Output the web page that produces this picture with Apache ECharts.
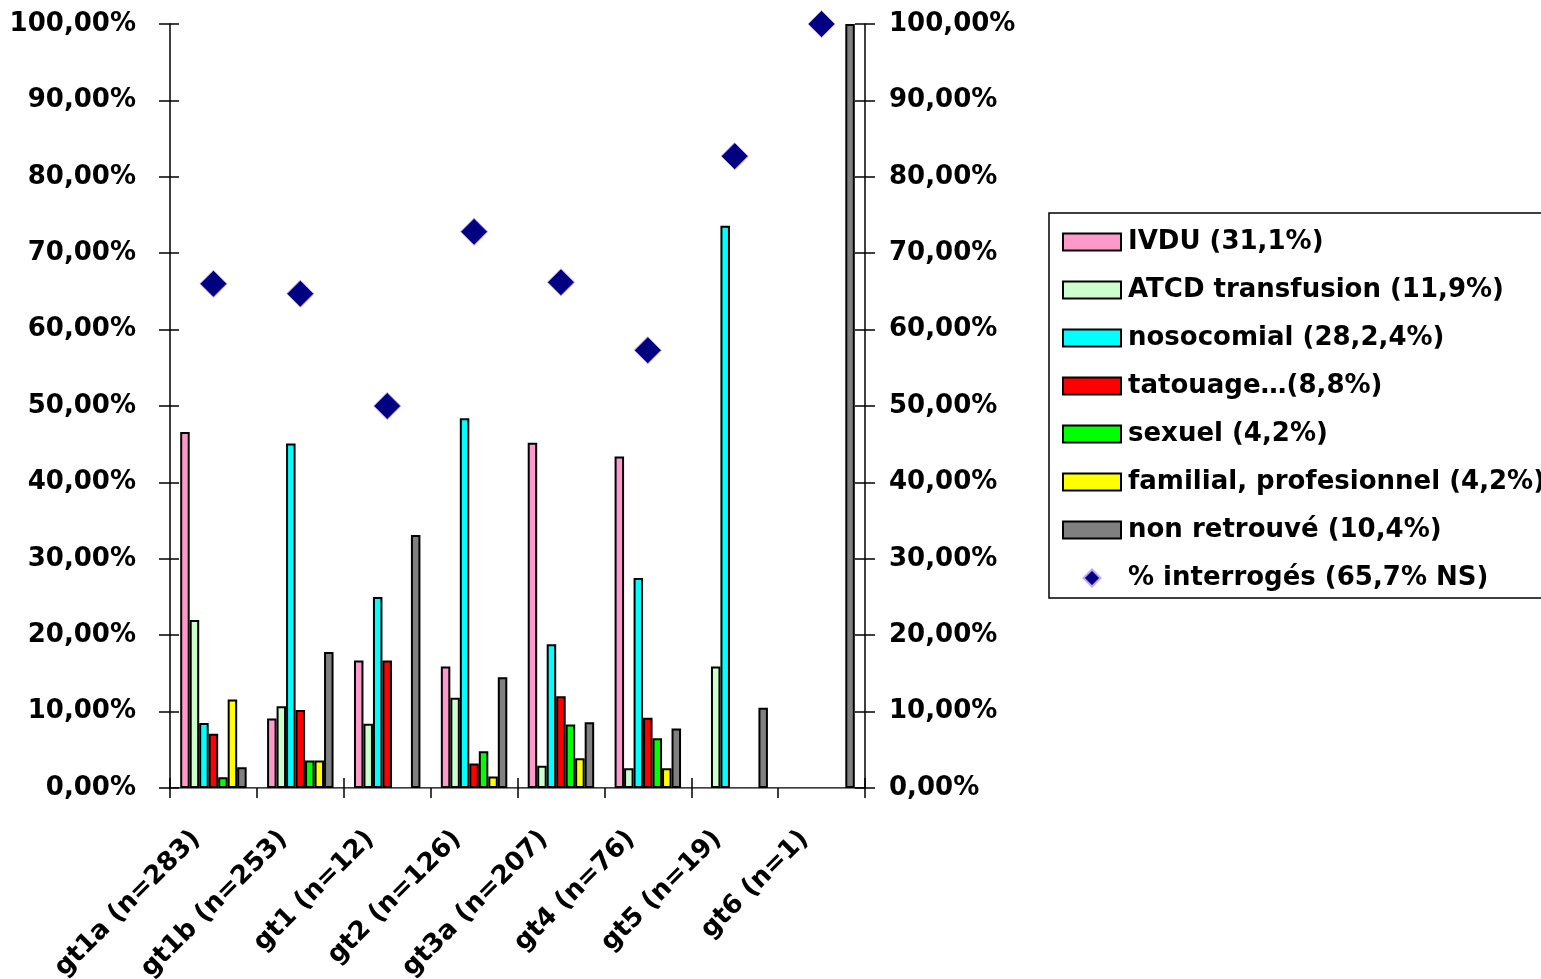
<!DOCTYPE html>
<html>
<head>
<meta charset="utf-8">
<title>Génotypes et modes de contamination</title>
<script src="https://cdn.jsdelivr.net/npm/echarts@6/dist/echarts.min.js"></script>
<style>
  html, body { margin: 0; padding: 0; background: #ffffff; }
  #chart { width: 1541px; height: 979px; }
</style>
</head>
<body>
<div id="chart"></div>
<script>
// Genotype groups (x axis)
const categories = ['gt1a (n=283)', 'gt1b (n=253)', 'gt1 (n=12)', 'gt2 (n=126)',
                    'gt3a (n=207)', 'gt4 (n=76)', 'gt5 (n=19)', 'gt6 (n=1)'];

// Share of each contamination mode per genotype, in %
const ivdu        = [46.6,  9.1, 16.7, 15.9, 45.2, 43.4, null, null];
const transfusion = [22.0, 10.7,  8.4, 11.8,  2.9,  2.6, 15.9, null];
const nosocomial  = [ 8.5, 45.1, 25.0, 48.4, 18.8, 27.5, 73.6, null];
const tatouage    = [ 7.1, 10.2, 16.7,  3.2, 12.0,  9.2, null, null];
const sexuel      = [ 1.4,  3.6, null,  4.8,  8.3,  6.5, null, null];
const familial    = [11.6,  3.6, null,  1.5,  3.9,  2.6, null, null];
const nonRetrouve = [ 2.7, 17.8, 33.1, 14.5,  8.6,  7.8, 10.5, 100];

// Share of patients questioned, in %
const interroges  = [66.0, 64.7, 50.0, 72.8, 66.2, 57.3, 82.7, 100];

// Legend labels
const names = ['IVDU (31,1%)', 'ATCD transfusion (11,9%)', 'nosocomial (28,2,4%)',
               'tatouage\u2026(8,8%)', 'sexuel (4,2%)', 'familial, profesionnel (4,2%)',
               'non retrouvé (10,4%)', '% interrogés (65,7% NS)'];

const barSets = [ivdu, transfusion, nosocomial, tatouage, sexuel, familial, nonRetrouve];
const barColors = ['#FF99CC', '#CCFFCC', '#00FFFF', '#FF0000', '#00FF00', '#FFFF00', '#808080'];

const FONT = 'DejaVu Sans';
const labelStyle = { fontFamily: FONT, fontWeight: 'bold', fontSize: 26, color: '#000' };
const pctFormat = v => v.toFixed(2).replace('.', ',') + '%';

const chart = echarts.init(document.getElementById('chart'), null, { renderer: 'canvas' });

const series = barSets.map((data, i) => ({
  name: names[i],
  type: 'bar',
  xAxisIndex: 0,
  yAxisIndex: 0,
  data: data,
  barGap: '0%',
  barCategoryGap: '23.5%',
  itemStyle: { color: barColors[i], borderColor: '#000', borderWidth: 2 },
  emphasis: { disabled: true }
}));

series.push({
  name: names[7],
  type: 'scatter',
  xAxisIndex: 0,
  yAxisIndex: 0,
  data: interroges,
  symbol: 'diamond',
  symbolSize: 27,
  z: 5,
  itemStyle: { color: '#000080', opacity: 1, borderColor: '#C4A3FF', borderWidth: 1 },
  emphasis: { disabled: true }
});

const yBase = { type: 'value', min: 0, max: 100, interval: 10, splitLine: { show: false } };

chart.setOption({
  animation: false,
  backgroundColor: '#ffffff',
  grid: { left: 170, right: 676, top: 24, bottom: 191, containLabel: false, outerBoundsMode: 'none' },
  legend: {
    orient: 'vertical',
    left: 1049,
    top: 213,
    padding: [16, 60, 7, 13],
    itemGap: 22,
    itemWidth: 58,
    itemHeight: 17,
    borderColor: '#000',
    borderWidth: 1.5,
    selectedMode: false,
    textStyle: { fontFamily: FONT, fontWeight: 'bold', fontSize: 26, color: '#000', lineHeight: 26, padding: [0, 0, 0, 2] },
    data: names.slice(0, 7).map(n => ({ name: n, icon: 'rect' }))
      .concat([{ name: names[7], icon: 'path://M0,-1L1,0L0,1L-1,0Z' }])
  },
  xAxis: [
    {
      type: 'category', data: categories, position: 'bottom',
      axisLine: { show: true, lineStyle: { color: '#000', width: 1.5 } },
      axisTick: { show: true, length: 10, inside: false, lineStyle: { color: '#000', width: 1.5 } },
      axisLabel: Object.assign({ rotate: 45, margin: 30, interval: 0, padding: [0, 24, 0, 0] }, labelStyle),
      splitLine: { show: false }
    },
    {
      type: 'category', data: categories, position: 'bottom',
      axisLine: { show: false },
      axisTick: { show: true, length: 10, inside: true, lineStyle: { color: '#000', width: 1.5 } },
      axisLabel: { show: false },
      splitLine: { show: false }
    },
    {
      type: 'category', data: categories, position: 'top',
      axisLine: { show: true, lineStyle: { color: '#808080', width: 1 } },
      axisTick: { show: false },
      axisLabel: { show: false },
      splitLine: { show: false }
    }
  ],
  yAxis: [
    Object.assign({}, yBase, {
      position: 'left',
      axisLine: { show: true, lineStyle: { color: '#000', width: 1.5 } },
      axisTick: { show: true, length: 11, lineStyle: { color: '#000', width: 1.5 } },
      axisLabel: Object.assign({ margin: 34, formatter: pctFormat }, labelStyle)
    }),
    Object.assign({}, yBase, {
      position: 'right',
      axisLine: { show: true, lineStyle: { color: '#000', width: 1.5 } },
      axisTick: { show: true, length: 10, lineStyle: { color: '#000', width: 1.5 } },
      axisLabel: Object.assign({ margin: 24, formatter: pctFormat }, labelStyle)
    }),
    Object.assign({}, yBase, {
      position: 'left',
      axisLine: { show: false },
      axisTick: { show: true, inside: true, length: 9, lineStyle: { color: '#000', width: 1.5 } },
      axisLabel: { show: false }
    }),
    Object.assign({}, yBase, {
      position: 'right',
      axisLine: { show: false },
      axisTick: { show: true, inside: true, length: 10, lineStyle: { color: '#000', width: 1.5 } },
      axisLabel: { show: false }
    })
  ],
  series: series
});
</script>
</body>
</html>
